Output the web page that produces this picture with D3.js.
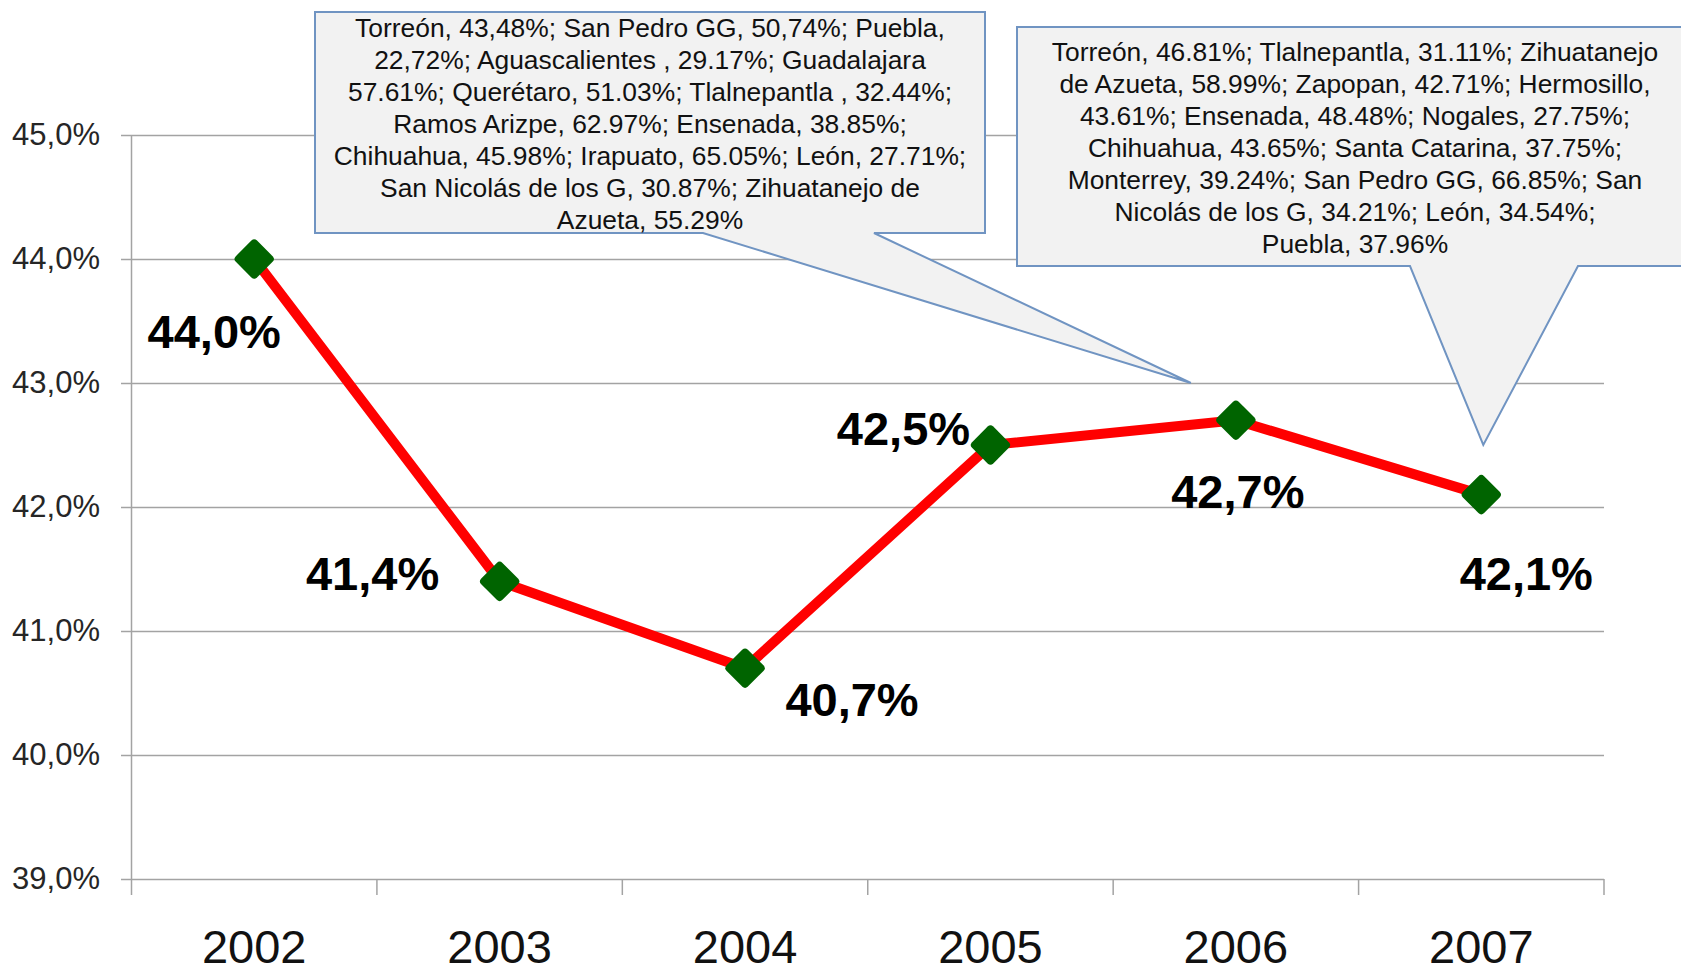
<!DOCTYPE html>
<html>
<head>
<meta charset="utf-8">
<script src="https://cdn.jsdelivr.net/npm/d3@7"></script>
<style>
  body { margin: 0; background: #fff; }
  svg { display: block; font-family: "Liberation Sans", Arial, sans-serif; }
</style>
</head>
<body>
<script>
// chart data
var years = ['2002', '2003', '2004', '2005', '2006', '2007'];
var values = [44.0, 41.4, 40.7, 42.5, 42.7, 42.1];
var yTicks = [39, 40, 41, 42, 43, 44, 45];

// callout texts (one line per entry, as wrapped in the picture)
var note2006 = [
  'Torreón, 43,48%; San Pedro GG, 50,74%; Puebla,',
  '22,72%; Aguascalientes , 29.17%; Guadalajara',
  '57.61%; Querétaro, 51.03%; Tlalnepantla , 32.44%;',
  'Ramos Arizpe, 62.97%; Ensenada, 38.85%;',
  'Chihuahua, 45.98%; Irapuato, 65.05%; León, 27.71%;',
  'San Nicolás de los G, 30.87%; Zihuatanejo de',
  'Azueta, 55.29%'
];
var note2007 = [
  'Torreón, 46.81%; Tlalnepantla, 31.11%; Zihuatanejo',
  'de Azueta, 58.99%; Zapopan, 42.71%; Hermosillo,',
  '43.61%; Ensenada, 48.48%; Nogales, 27.75%;',
  'Chihuahua, 43.65%; Santa Catarina, 37.75%;',
  'Monterrey, 39.24%; San Pedro GG, 66.85%; San',
  'Nicolás de los G, 34.21%; León, 34.54%;',
  'Puebla, 37.96%'
];

// where each value label sits relative to its point (layout only)
var labelOffsets = [[-40, 89], [-127, 9], [107, 48], [-87, 0], [2, 88], [45, 95]];

var width = 1681, height = 969;
var plotLeft = 131.5, plotRight = 1604, plotTop = 135, plotBottom = 879;
var fmt = function(v) { return d3.format('.1f')(v).replace('.', ',') + '%'; };

var svg = d3.select('body').append('svg')
  .attr('width', width)
  .attr('height', height);

var x = d3.scaleBand().domain(years).range([plotLeft, plotRight]);
var y = d3.scaleLinear().domain([39, 45]).range([plotBottom, plotTop]);

// y axis with gridlines
var yAxis = d3.axisLeft(y)
  .tickValues(yTicks)
  .tickSize(-(plotRight - 121))
  .tickPadding(21)
  .tickFormat(fmt);

var gY = svg.append('g')
  .attr('transform', 'translate(121,0)')
  .call(yAxis);
gY.select('.domain').remove();
gY.selectAll('line').attr('stroke', '#a3a3a3').attr('stroke-width', 1.5);
gY.selectAll('text')
  .attr('fill', '#262626')
  .style('font-size', '31px');

// vertical axis line
svg.append('line')
  .attr('x1', plotLeft).attr('x2', plotLeft)
  .attr('y1', plotTop).attr('y2', plotBottom + 16)
  .attr('stroke', '#a3a3a3').attr('stroke-width', 1.5);

// category boundary ticks
var bounds = years.map(function(d) { return x(d); }).concat([plotRight]);
svg.append('g').selectAll('line')
  .data(bounds.slice(1))
  .enter().append('line')
  .attr('x1', function(d) { return d; })
  .attr('x2', function(d) { return d; })
  .attr('y1', plotBottom)
  .attr('y2', plotBottom + 16)
  .attr('stroke', '#a3a3a3').attr('stroke-width', 1.5);

// x labels
var xAxis = d3.axisBottom(x).tickSize(0).tickPadding(51);
var gX = svg.append('g')
  .attr('transform', 'translate(0,' + plotBottom + ')')
  .call(xAxis);
gX.select('.domain').remove();
gX.selectAll('text')
  .attr('fill', '#111')
  .style('font-size', '47px');

// callouts (drawn under the line)
var cx = function(d) { return x(d) + x.bandwidth() / 2; };
var tip1 = [cx('2006') - 45, y(43.0)];
var tip2 = [cx('2007') + 2, y(42.5)];

function callout(box, base, tip, lines, textX, firstY) {
  var p = 'M' + box[0] + ',' + box[1] + 'H' + box[2] + 'V' + box[3] +
          'H' + base[1] + 'L' + tip[0] + ',' + tip[1] +
          'L' + base[0] + ',' + box[3] + 'H' + box[0] + 'Z';
  svg.append('path')
    .attr('d', p)
    .attr('fill', '#f2f2f2')
    .attr('stroke', '#7094c2')
    .attr('stroke-width', 2);
  svg.append('g').selectAll('text')
    .data(lines)
    .enter().append('text')
    .attr('x', textX)
    .attr('y', function(d, i) { return firstY + i * 32; })
    .attr('text-anchor', 'middle')
    .attr('fill', '#111')
    .style('font-size', '26.4px')
    .text(function(d) { return d; });
}

callout([315, 12, 985, 233], [703, 874], tip1, note2006, 650, 37);
callout([1017, 27, 1700, 266], [1410, 1578], tip2, note2007, 1355, 61);

// the line
var line = d3.line()
  .x(function(d, i) { return cx(years[i]); })
  .y(function(d) { return y(d); });

svg.append('path')
  .datum(values)
  .attr('d', line)
  .attr('fill', 'none')
  .attr('stroke', '#ff0000')
  .attr('stroke-width', 10)
  .attr('stroke-linejoin', 'round');

// diamond markers
svg.append('g').selectAll('rect')
  .data(values)
  .enter().append('rect')
  .attr('x', -15).attr('y', -15)
  .attr('width', 30).attr('height', 30)
  .attr('rx', 4)
  .attr('fill', '#006400')
  .attr('transform', function(d, i) {
    return 'translate(' + cx(years[i]) + ',' + y(d) + ') rotate(45)';
  });

// value labels
svg.append('g').selectAll('text')
  .data(values)
  .enter().append('text')
  .attr('x', function(d, i) { return cx(years[i]) + labelOffsets[i][0]; })
  .attr('y', function(d, i) { return y(d) + labelOffsets[i][1]; })
  .attr('text-anchor', 'middle')
  .attr('fill', '#000')
  .style('font-size', '47px')
  .style('font-weight', 'bold')
  .text(function(d) { return fmt(d); });
</script>
</body>
</html>
